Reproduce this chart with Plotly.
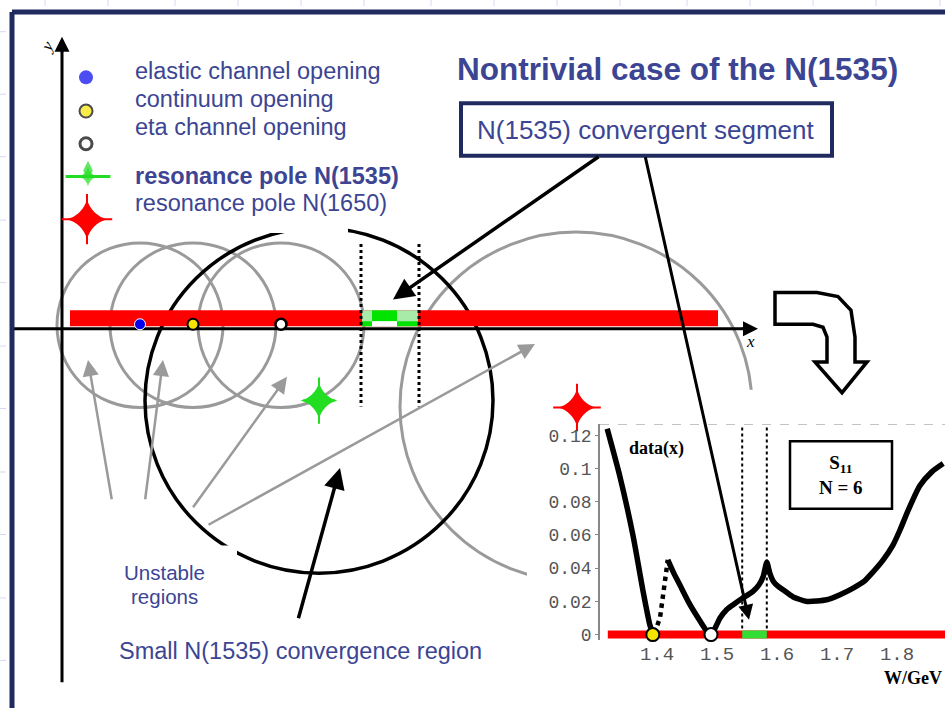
import plotly.graph_objects as go

# ================= DATA =================
# Inset: S11 (N = 6) data(x) versus W / GeV
W_LEFT = [1.317, 1.338, 1.360, 1.377, 1.388, 1.393]
D_LEFT = [0.124, 0.0955, 0.0597, 0.0257, 0.006, 0.001]
W_DOTTED = [1.393, 1.399, 1.405, 1.413, 1.418]
D_DOTTED = [0.001, 0.004, 0.010, 0.030, 0.045]
W_RIGHT = [1.418, 1.428, 1.438, 1.455, 1.472, 1.485, 1.490, 1.497, 1.505, 1.516, 1.527,
           1.543, 1.560, 1.570, 1.577, 1.583, 1.588, 1.594, 1.602, 1.610, 1.627, 1.650,
           1.683, 1.705, 1.727, 1.745, 1.760, 1.777, 1.793, 1.805, 1.817, 1.838, 1.858,
           1.877]
D_RIGHT = [0.045, 0.037, 0.030, 0.018, 0.008, 0.001, 0.000, 0.004, 0.010, 0.015, 0.018,
           0.022, 0.026, 0.030, 0.035, 0.0436, 0.037, 0.032, 0.029, 0.027, 0.0227, 0.020,
           0.021, 0.024, 0.028, 0.032, 0.0377, 0.045, 0.0537, 0.063, 0.0735, 0.0896, 0.098,
           0.103]
W_TICKS = [1.4, 1.5, 1.6, 1.7, 1.8]
W_TICK_TEXT = ["1.4", "1.5", "1.6", "1.7", "1.8"]
D_TICKS = [0, 0.02, 0.04, 0.06, 0.08, 0.10, 0.12]
D_TICK_TEXT = ["0", "0.02", "0.04", "0.06", "0.08", "0.1", "0.12"]
W_CONTINUUM = 1.393          # continuum opening
W_ETA = 1.490                # eta channel opening
W_SEGMENT = [1.542, 1.583]   # N(1535) convergent segment
W_CUT = [1.318, 1.88]        # cut along the real axis
W_POLE_1535 = 1.527
W_POLE_1650 = 1.652

# Main sketch (complex W plane, drawn in page pixels)
BRANCH_X = [140, 193, 281]   # elastic, continuum, eta openings on the real axis
REAL_Y = 327
POLE_1535 = (319, 404)
POLE_1650 = (576, 410)
R_UNSTABLE = 83
R_CONV_1535 = 174
R_CONV_1650 = 176
CUT_X = [70, 718]
SEGMENT_X = [362, 418]

LEGEND_LABELS = ["elastic channel opening", "continuum opening", "eta channel opening",
                 "<b>resonance pole N(1535)</b>", "resonance pole N(1650)"]

# ================= STYLE / LAYOUT =================
W, H = 945, 714
BLUE_TXT = "#3c4593"
FRAME = "#1f2b5f"
GRAY = "#9a9a9a"
SANS = "Liberation Sans, Arial, sans-serif"
SERIF = "Liberation Serif, Times New Roman, serif"
MONO = "Liberation Mono, Courier New, monospace"

IN_X0, IN_Y0, IN_Y1 = 600, 645, 428     # inset axes box (pixels)
Y2_BOTTOM, Y2_TOP = -0.003, 0.1266

shapes = []


def add_line(x0, y0, x1, y1, color, width, dash=None, xref="x", yref="y", layer="below"):
    ln = dict(color=color, width=width)
    if dash:
        ln["dash"] = dash
    shapes.append(dict(type="line", x0=x0, y0=y0, x1=x1, y1=y1, xref=xref, yref=yref,
                       layer=layer, line=ln))


def add_rect(x0, y0, x1, y1, fill, line_color=None, line_width=0, xref="x", yref="y",
             layer="below"):
    shapes.append(dict(type="rect", x0=x0, y0=y0, x1=x1, y1=y1, xref=xref, yref=yref,
                       layer=layer, fillcolor=fill,
                       line=dict(color=line_color or fill, width=line_width)))


def add_circle(c, r, color, width):
    shapes.append(dict(type="circle", x0=c[0] - r, x1=c[0] + r, y0=c[1] - r, y1=c[1] + r,
                       xref="x", yref="y", layer="below",
                       line=dict(color=color, width=width), fillcolor="rgba(0,0,0,0)"))


# faint slide grid marks
for tx in [45, 108, 175, 238, 301, 364, 431, 494, 557, 620, 687, 750, 813, 876, 940]:
    add_line(tx, 0, tx, 6, "#d3daf0", 1)
for ty in [32, 95, 158, 222, 285, 349, 412, 476, 539, 603, 666]:
    add_line(0, ty, 6, ty, "#d3daf0", 1)

# unstable regions around channel openings
for bx in BRANCH_X:
    add_circle((bx, REAL_Y + 1), R_UNSTABLE, GRAY, 3)
add_circle(POLE_1650, R_CONV_1650, GRAY, 3)
add_circle(POLE_1535, R_CONV_1535, "black", 3.5)

# white cover areas (legend, label, inset picture)
add_rect(118, 150, 348, 235, "white")
add_rect(95, 550, 237, 625, "white")
add_rect(527, 393, 945, 714, "white")

# cut on real axis with the convergent segment
add_rect(CUT_X[0], 313, CUT_X[1], 329, "#ff0000")
add_rect(SEGMENT_X[0], 313, SEGMENT_X[1], 329, "#a8eaa8")
add_rect(372, 313, 397, 324, "#00e400")
add_rect(372, 324, 397, 329, "white")
add_rect(397, 324, SEGMENT_X[1], 329, "#00e400")
add_rect(SEGMENT_X[0], 324, 372, 329, "#00e400")

# axes of the sketch
add_line(13, 331.5, 748, 331.5, "black", 3)
add_line(62, 48, 62, 688, "black", 3)

# dashed boundaries of the segment
for sx in [361, 419]:
    add_line(sx, 246, sx, 410, "black", 3, dash="dot")

# hook arrow
HOOK = [(775, 295), (775, 327), (813, 327), (823, 330), (827, 340), (827, 365), (815, 365),
        (842, 396), (867, 365), (855, 365), (855, 340), (851, 313), (838, 299), (817, 295)]
path = "M " + " L ".join(f"{px},{py}" for px, py in HOOK) + " Z"
shapes.append(dict(type="path", path=path, xref="x", yref="y", layer="below",
                   fillcolor="white", line=dict(color="black", width=3.5)))

# slide frame
add_line(12, 12, 945, 12, FRAME, 5)
add_line(12, 12, 12, 714, FRAME, 5)

# label box
add_rect(461, 104, 832, 157, "white", FRAME, 4)

# inset decorations
add_line(W_CUT[0] - 0.013, Y2_TOP, W_CUT[1], Y2_TOP, "#888888", 1.2, dash="dash",
         xref="x2", yref="y2")
for sw in W_SEGMENT:
    add_line(sw, 0, sw, Y2_TOP, "black", 2, dash="dot", xref="x2", yref="y2")
add_rect(W_CUT[0], -0.0024, W_CUT[1], 0.0024, "#ff0000", xref="x2", yref="y2")
add_rect(W_SEGMENT[0], -0.0024, W_SEGMENT[1], 0.0024, "#33dd33", xref="x2", yref="y2")
add_rect(790, 445, 892, 513, "white", "black", 2.5)

fig = go.Figure()


def sparkle(xs, ys, color, size, xaxis="x", yaxis="y", squash=1.0):
    """4-pointed star: concave body plus thin arm tips."""
    parts = [("star-diamond", size * 0.8, dict(width=0)),
             ("line-ns", size, dict(color=color, width=2)),
             ("line-ew", size * squash, dict(color=color, width=2))]
    for sym, s, ln in parts:
        fig.add_trace(go.Scatter(x=xs, y=ys, mode="markers", xaxis=xaxis, yaxis=yaxis,
                                 cliponaxis=False, hoverinfo="skip",
                                 marker=dict(symbol=sym, size=s, color=color, line=ln)))


# inset curve
fig.add_trace(go.Scatter(x=W_LEFT, y=D_LEFT, mode="lines", xaxis="x2", yaxis="y2",
                         line=dict(color="black", width=5.5, shape="spline", smoothing=0.6),
                         hoverinfo="skip"))
fig.add_trace(go.Scatter(x=W_DOTTED, y=D_DOTTED, mode="lines", xaxis="x2", yaxis="y2",
                         line=dict(color="black", width=4.5, dash="dot"), hoverinfo="skip"))
fig.add_trace(go.Scatter(x=W_RIGHT, y=D_RIGHT, mode="lines", xaxis="x2", yaxis="y2",
                         line=dict(color="black", width=5.5, shape="spline", smoothing=0.6),
                         hoverinfo="skip"))
fig.add_trace(go.Scatter(x=[W_CONTINUUM, W_ETA], y=[0, 0], mode="markers", xaxis="x2",
                         yaxis="y2", cliponaxis=False,
                         marker=dict(size=13, color=["#f5e400", "white"],
                                     line=dict(color="black", width=2))))
sparkle([W_POLE_1535], [-0.0227], "#55ee55", 32, "x2", "y2")
sparkle([W_POLE_1650], [-0.0227], "#ff1010", 34, "x2", "y2")

# sketch points
fig.add_trace(go.Scatter(x=BRANCH_X, y=[REAL_Y] * 3, mode="markers",
                         marker=dict(size=11, color=["#0000ee", "#f5e400", "white"],
                                     line=dict(color=["white", "black", "black"],
                                               width=[1, 2, 2.5]))))
sparkle([POLE_1535[0]], [POLE_1535[1]], "#22dd22", 33, squash=0.7)
sparkle([POLE_1650[0] + 1], [POLE_1650[1] + 1], "#ff0000", 34)

# legend symbols
fig.add_trace(go.Scatter(
    x=[86, 86, 86], y=[78, 112, 145], mode="markers",
    marker=dict(symbol="circle", size=[14, 13, 12],
                color=["#0000ee", "#f5e400", "white"],
                line=dict(color=["#0000ee", "black", "black"], width=[0, 2, 3]))))
fig.add_trace(go.Scatter(x=[88, 88], y=[172, 178], mode="markers", hoverinfo="skip",
                         marker=dict(symbol=["diamond-tall", "star-diamond"], size=[14, 14],
                                     color="#22dd22", line=dict(width=0))))
fig.add_trace(go.Scatter(x=[88], y=[178], mode="markers", hoverinfo="skip",
                         marker=dict(symbol="line-ew", size=32,
                                     line=dict(color="#22dd22", width=3))))
sparkle([87], [221], "#ff0000", 36)

ann = []


def txt(x, y, s, size, color=BLUE_TXT, family=SANS, xanchor="left", **kw):
    d = dict(x=x, y=y, xref="x", yref="y", text=s, showarrow=False, xanchor=xanchor,
             yanchor="middle", font=dict(size=size, color=color, family=family))
    d.update(kw)
    ann.append(d)


def arrow(head, tail, color, width, size=1.0):
    ann.append(dict(x=head[0], y=head[1], ax=tail[0], ay=tail[1], xref="x", yref="y",
                    axref="x", ayref="y", text="", showarrow=True, arrowhead=2,
                    arrowsize=size, arrowwidth=width, arrowcolor=color, standoff=0))


txt(455, 70, "<b>Nontrivial case of the N(1535)</b>", 31.5)
for lbl, ly in zip(LEGEND_LABELS, [72, 100, 128, 177, 205]):
    txt(133, ly, lbl, 23.5)
txt(646, 131, "N(1535) convergent segment", 26, xanchor="center")
txt(164, 577, "Unstable", 20.5, xanchor="center")
txt(164, 602, "regions", 20.5, xanchor="center")
txt(117, 657, "Small N(1535) convergence region", 23.5)
txt(750, 344, "<i>x</i>", 17, color="black", family=SERIF, xanchor="center")
txt(47, 47, "<i>y</i>", 17, color="black", family=SERIF, xanchor="center", textangle=-60)
txt(627, 452, "<b>data(x)</b>", 18, color="black", family=SERIF)
txt(841, 479, "<b>S<sub>11</sub><br>N = 6</b>", 19, color="black", family=SERIF,
    xanchor="center")
txt(944, 684, "<b>W/GeV</b>", 18, color="black", family=SERIF, xanchor="right")

# gray arrows (unstable regions)
arrow((88, 363), (112, 505), GRAY, 2.5, 1.3)
arrow((163, 363), (145, 505), GRAY, 2.5, 1.3)
arrow((287, 380), (192, 513), GRAY, 2.5, 1.3)
arrow((535, 347), (207, 530), GRAY, 2.5, 1.3)
# black arrows
arrow((393, 302), (600, 157), "black", 3.5, 1.2)
arrow((749, 625), (645, 157), "black", 3, 1.0)
arrow((340, 472), (298, 625), "black", 3.5, 1.2)
# axis arrow heads
arrow((758, 331.5), (740, 331.5), "black", 2.5, 1.2)
arrow((62, 37), (62, 55), "black", 2.5, 1.2)

fig.update_layout(
    width=W, height=H, margin=dict(l=0, r=0, t=0, b=0),
    paper_bgcolor="white", plot_bgcolor="rgba(0,0,0,0)", showlegend=False,
    shapes=shapes, annotations=ann,
    xaxis=dict(range=[0, W], domain=[0, 1], visible=False, fixedrange=True),
    yaxis=dict(range=[H, 0], domain=[0, 1], visible=False, fixedrange=True),
    xaxis2=dict(domain=[IN_X0 / W, 1], anchor="y2", range=[1.305, 1.88],
                tickvals=W_TICKS, ticktext=W_TICK_TEXT, showgrid=False, zeroline=False,
                showline=False, ticks="", fixedrange=True,
                tickfont=dict(family=MONO, size=19, color="#555555")),
    yaxis2=dict(domain=[1 - IN_Y0 / H, 1 - IN_Y1 / H], anchor="x2",
                range=[Y2_BOTTOM, Y2_TOP], tickvals=D_TICKS, ticktext=D_TICK_TEXT,
                showgrid=False, zeroline=False, showline=True, linecolor="#888888",
                linewidth=1.5, ticks="outside", ticklen=3, tickcolor="#888888",
                fixedrange=True, tickfont=dict(family=MONO, size=18, color="#555555")),
)

POST = ("var s=document.createElement('style');"
        "s.textContent='html,body{margin:0;padding:0;overflow:hidden;height:714px;}';"
        "document.head.appendChild(s);")
fig.write_html("out.html", config={"displayModeBar": False}, post_script=POST)
